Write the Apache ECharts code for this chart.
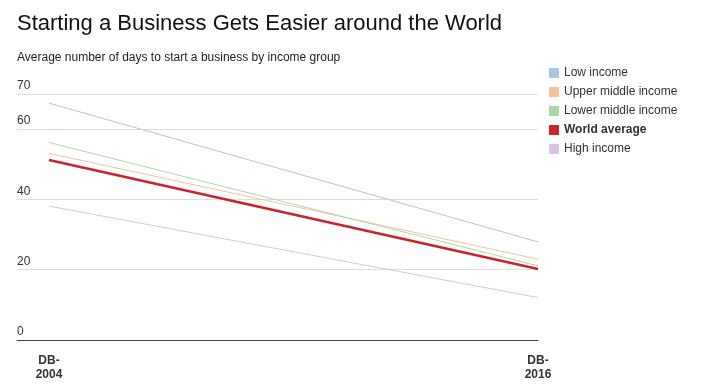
<!DOCTYPE html>
<html>
<head>
<meta charset="utf-8">
<script src="https://cdn.jsdelivr.net/npm/echarts@6/dist/echarts.min.js"></script>
<style>
html,body{margin:0;padding:0;background:#fff;}
#c{width:716px;height:388px;}
</style>
</head>
<body>
<div id="c"></div>
<script>
const periods = ['DB-2004', 'DB-2016'];
const periodPositions = [2004, 2016];
const seriesNames = ['Low income', 'Upper middle income', 'Lower middle income', 'World average', 'High income'];
const lowIncome = [67.4, 27.9];
const upperMiddleIncome = [53.1, 23.0];
const lowerMiddleIncome = [56.2, 21.1];
const worldAverage = [51.2, 20.2];
const highIncome = [38.1, 12.1];
const yTicks = [0, 20, 40, 60, 70];

const seriesValues = [lowIncome, upperMiddleIncome, lowerMiddleIncome, worldAverage, highIncome];
const colors = ['#a9c9e2', '#f0c49c', '#aad8a9', '#cc2229', '#d7c5e3'];
const widths = [1, 1, 1, 2.5, 1];

const chart = echarts.init(document.getElementById('c'), null, {renderer: 'canvas'});
const font = '"Liberation Sans", Arial, sans-serif';

chart.setOption({
  animation: false,
  textStyle: {fontFamily: font},
  title: [
    {text: 'Starting a Business Gets Easier around the World', left: 12, top: 8,
     textStyle: {fontFamily: font, fontSize: 22, fontWeight: 'normal', color: '#111'}},
    {text: 'Average number of days to start a business by income group', left: 12, top: 47,
     textStyle: {fontFamily: font, fontSize: 12, fontWeight: 'normal', color: '#222'}}
  ],
  legend: {
    orient: 'vertical', left: 544, top: 62,
    itemWidth: 10, itemHeight: 10, itemGap: 7, icon: 'rect',
    textStyle: {fontFamily: font, fontSize: 12, color: '#333'},
    data: seriesNames.map(n => n === 'World average'
      ? {name: n, textStyle: {fontWeight: 'bold', color: '#333'}}
      : {name: n})
  },
  grid: {left: 17, right: 178, top: 94, bottom: 48, containLabel: false},
  xAxis: {
    type: 'value',
    min: 2003.215, max: 2016,
    axisLine: {show: true, onZero: false, lineStyle: {color: '#444', width: 1.2}},
    axisTick: {show: false},
    splitLine: {show: false},
    axisLabel: {
      customValues: periodPositions,
      margin: 14,
      fontFamily: font, fontSize: 12, fontWeight: 'bold', color: '#333', lineHeight: 14,
      formatter: v => {
        const i = periodPositions.indexOf(Math.round(v));
        return i >= 0 ? periods[i].replace('-', '-\n') : '';
      }
    }
  },
  yAxis: {
    type: 'value', min: 0, max: 70, interval: 20,
    axisLine: {show: false},
    axisTick: {show: false},
    splitLine: {show: true, lineStyle: {color: '#dddddd', width: 1}},
    axisLabel: {
      inside: true, margin: 0, verticalAlign: 'bottom', padding: [0, 0, 2, 0],
      fontFamily: font, fontSize: 12, color: '#333',
      formatter: v => yTicks.indexOf(v) >= 0 ? String(v) : ''
    }
  },
  series: seriesNames.map((n, i) => ({
    name: n, type: 'line', symbol: 'none',
    color: colors[i],
    lineStyle: {color: colors[i], width: widths[i]},
    z: n === 'World average' ? 5 : 2,
    data: periodPositions.map((p, j) => [p, seriesValues[i][j]])
  }))
});
</script>
</body>
</html>
